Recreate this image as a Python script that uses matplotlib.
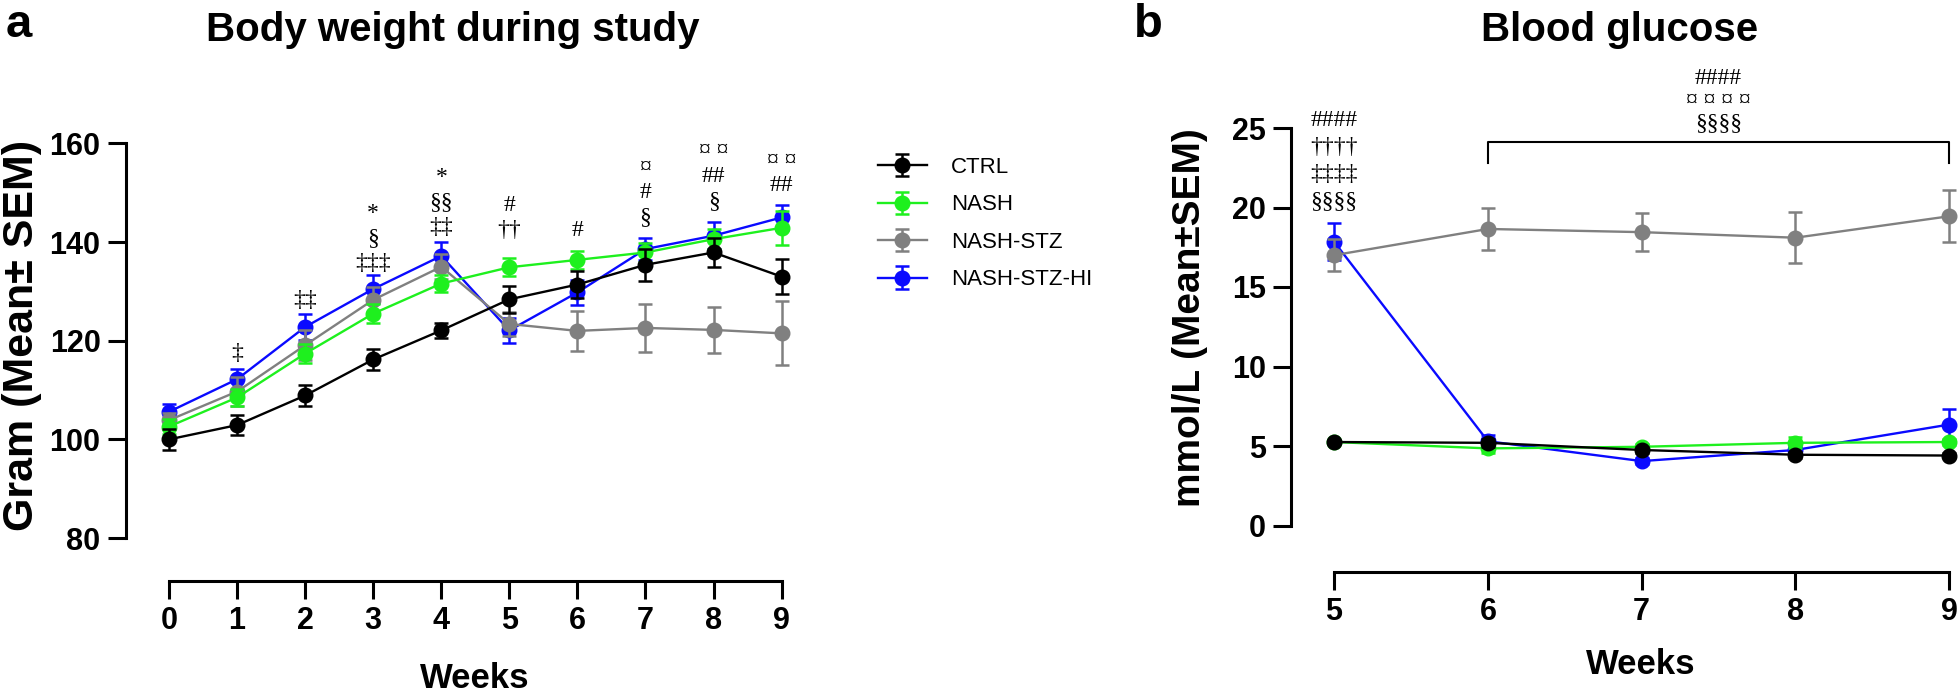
import matplotlib
matplotlib.use("Agg")
import matplotlib.pyplot as plt

plt.rcParams['font.family'] = ['Liberation Sans', 'DejaVu Sans']

W, H = 1960, 694
DPI = 100

groups = ["CTRL", "NASH", "NASH-STZ", "NASH-STZ-HI"]
colors = ["#000000", "#1ef01e", "#808080", "#0a0aff"]

# body weight, weeks 0-9 (mean and SEM, gram)
bw_weeks = [0, 1, 2, 3, 4, 5, 6, 7, 8, 9]
ctrl_bw = [100.0, 102.9, 108.9, 116.2, 122.1, 128.4, 131.4, 135.4, 137.9, 133.0]
nash_bw = [102.6, 108.5, 117.4, 125.5, 131.6, 134.9, 136.4, 137.9, 140.6, 142.9]
stz_bw = [103.9, 109.7, 119.1, 128.3, 135.0, 123.4, 122.0, 122.6, 122.2, 121.5]
hi_bw = [105.6, 112.2, 122.8, 130.5, 137.2, 122.1, 129.8, 138.6, 141.3, 145.0]
ctrl_bw_sem = [2.2, 2.1, 2.2, 2.1, 1.5, 2.7, 2.8, 3.2, 3.0, 3.5]
nash_bw_sem = [1.5, 1.8, 2.0, 1.9, 1.8, 1.8, 1.9, 2.0, 2.0, 3.4]
stz_bw_sem = [1.5, 3.0, 3.0, 2.5, 2.5, 2.5, 4.1, 4.8, 4.7, 6.5]
hi_bw_sem = [1.5, 2.1, 2.6, 2.8, 2.9, 2.5, 2.5, 2.2, 2.7, 2.5]

# blood glucose, weeks 5-9 (mean and SEM, mmol/L)
bg_weeks = [5, 6, 7, 8, 9]
ctrl_bg = [5.25, 5.2, 4.75, 4.45, 4.4]
nash_bg = [5.25, 4.85, 4.95, 5.2, 5.25]
stz_bg = [17.0, 18.65, 18.45, 18.1, 19.45]
hi_bg = [17.85, 5.3, 4.05, 4.75, 6.35]
ctrl_bg_sem = [0.15, 0.25, 0.2, 0.2, 0.15]
nash_bg_sem = [0.15, 0.3, 0.2, 0.35, 0.2]
stz_bg_sem = [1.0, 1.3, 1.2, 1.6, 1.65]
hi_bg_sem = [1.15, 0.4, 0.2, 0.2, 0.95]

# significance marks: week, rows (top to bottom), centre of bottom row
bw_marks = [
    (1, ["‡"], 117.4),
    (2, ["‡‡"], 128.1),
    (3, ["*", "§", "‡‡‡"], 135.6),
    (4, ["*", "§§", "‡‡"], 143.0),
    (5, ["#", "††"], 142.4),
    (6, ["#"], 142.3),
    (7, ["¤", "#", "§"], 145.0),
    (8, ["¤ ¤", "##", "§"], 148.3),
    (9, ["¤ ¤", "##"], 151.5),
]
bg_marks_w5 = ["####", "††††", "‡‡‡‡", "§§§§"]
bg_marks_bracket = ["####", "¤ ¤ ¤ ¤", "§§§§"]

serif = ['Liberation Serif', 'DejaVu Serif']


def px(x, y):
    return x / W, 1 - y / H


def style_axis(ax, ybounds, xbounds, drop_px):
    for s in ["top", "right"]:
        ax.spines[s].set_visible(False)
    for s in ["left", "bottom"]:
        ax.spines[s].set_linewidth(2.2)
    ax.spines["left"].set_bounds(*ybounds)
    ax.spines["bottom"].set_bounds(*xbounds)
    ax.spines["bottom"].set_position(("outward", drop_px * 72 / DPI))
    ax.tick_params(axis="both", direction="out", length=13, width=2.2,
                   labelsize=22, pad=5)
    for lab in ax.get_xticklabels() + ax.get_yticklabels():
        lab.set_fontweight("bold")


def draw_series(ax, x, series, sems):
    # draw order: blue, gray, green, black on top
    order = [3, 2, 1, 0]
    handles = {}
    for i in order:
        h = ax.errorbar(x, series[i], yerr=sems[i], color=colors[i], marker="o",
                        ms=10.5, lw=1.7, elinewidth=1.8, capsize=5, capthick=1.8,
                        label=groups[i], zorder=3 + (3 - i), clip_on=False)
        handles[i] = h
    return [handles[i] for i in range(4)]


fig = plt.figure(figsize=(W / DPI, H / DPI), dpi=DPI)

# ---- panel a: body weight
ax1 = fig.add_axes([125.5 / W, (H - 538) / H, (802 - 125.5) / W, (538 - 143.5) / H])
handles = draw_series(ax1, bw_weeks, [ctrl_bw, nash_bw, stz_bw, hi_bw],
                      [ctrl_bw_sem, nash_bw_sem, stz_bw_sem, hi_bw_sem])
ax1.set_xlim(-0.64, 9.3)
ax1.set_ylim(80, 160)
ax1.set_xticks(bw_weeks)
ax1.set_yticks([80, 100, 120, 140, 160])
style_axis(ax1, (80, 160), (0, 9), 43)

step = 5.1
for wk, rows, base in bw_marks:
    for j, txt in enumerate(reversed(rows)):
        ax1.text(wk, base + j * step, txt, ha="center", va="center", fontsize=17,
                 family=serif, clip_on=False)

# ---- panel b: blood glucose
ax2 = fig.add_axes([1291 / W, (H - 525.5) / H, (1957 - 1291) / W, (525.5 - 128) / H])
draw_series(ax2, bg_weeks, [ctrl_bg, nash_bg, stz_bg, hi_bg],
            [ctrl_bg_sem, nash_bg_sem, stz_bg_sem, hi_bg_sem])
ax2.set_xlim(4.72, 9.05)
ax2.set_ylim(0, 25)
ax2.set_xticks(bg_weeks)
ax2.set_yticks([0, 5, 10, 15, 20, 25])
style_axis(ax2, (0, 25), (5, 9), 46.5)

for j, txt in enumerate(reversed(bg_marks_w5)):
    ax2.text(5, 20.4 + j * 1.7, txt, ha="center", va="center", fontsize=17,
             family=serif, clip_on=False)
ax2.plot([6, 6, 9, 9], [22.8, 24.1, 24.1, 22.8], color="black", lw=1.5,
         clip_on=False)
for j, txt in enumerate(reversed(bg_marks_bracket)):
    ax2.text(7.5, 25.3 + j * 1.4, txt, ha="center", va="center", fontsize=17,
             family=serif, clip_on=False)

# ---- texts
fig.text(*px(19, 25), "a", fontsize=34, fontweight="bold", ha="center", va="center")
fig.text(*px(1148, 25), "b", fontsize=34, fontweight="bold", ha="center", va="center")
fig.text(*px(453, 30), "Body weight during study", fontsize=29, fontweight="bold",
         ha="center", va="center")
fig.text(*px(1620, 30), "Blood glucose", fontsize=29, fontweight="bold",
         ha="center", va="center")
fig.text(*px(475, 678), "Weeks", fontsize=25, fontweight="bold", ha="center", va="center")
fig.text(*px(1641, 665), "Weeks", fontsize=25, fontweight="bold", ha="center", va="center")
fig.text(*px(22, 335), "Gram (Mean± SEM)", fontsize=31, fontweight="bold",
         rotation=90, ha="center", va="center")
fig.text(*px(1190, 318), "mmol/L (Mean±SEM)", fontsize=28, fontweight="bold",
         rotation=90, ha="center", va="center")

leg = fig.legend(handles, groups, loc="upper left", bbox_to_anchor=px(878, 157),
                 frameon=False, fontsize=16, handlelength=2.2, handletextpad=1.1,
                 labelspacing=0.74, borderpad=0, borderaxespad=0)

fig.savefig("out.png", dpi=DPI)
